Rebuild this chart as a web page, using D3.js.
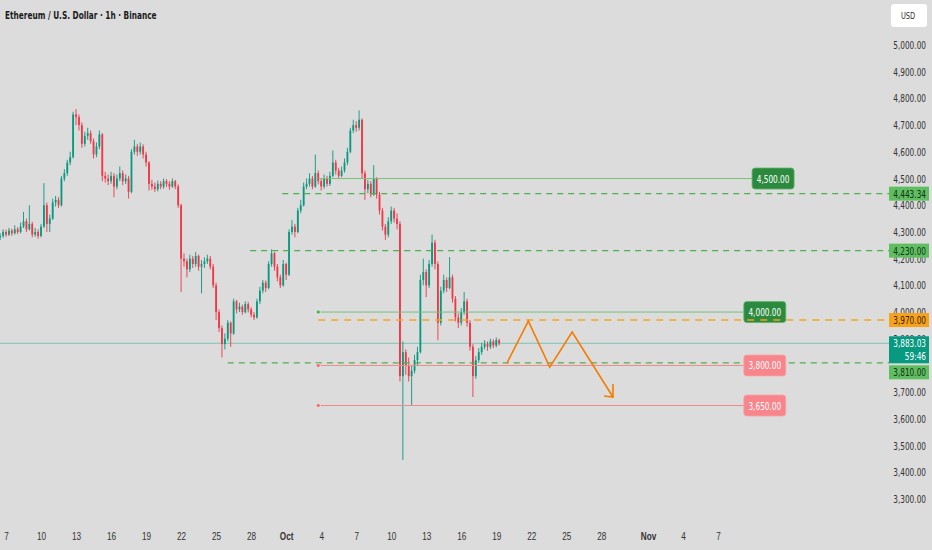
<!DOCTYPE html>
<html lang="en">
<head>
<meta charset="UTF-8" />
<title>Ethereum / U.S. Dollar · 1h · Binance</title>
<script src="https://d3js.org/d3.v7.min.js"></script>
<style>
    body { margin: 0; background: #dcdcdc; }
    svg { display: block; font-family: "DejaVu Sans Condensed", "DejaVu Sans", sans-serif; }
</style>
</head>
<body>
<svg width="932" height="550"></svg>
<script>
// 6h candles, starting 6 Sep 12:00
const startTime = Date.UTC(2025, 8, 6, 12);
const stepHours = 6;
const firstOpen = 4280;
const closes = [
    4285, 4300, 4290, 4305, 4295, 4310, 4300, 4320, 4340, 4310,
    4330, 4290, 4300, 4285, 4320, 4400, 4330, 4350, 4410, 4420,
    4400, 4500, 4520, 4560, 4580, 4740, 4730, 4700, 4630, 4660,
    4670, 4640, 4590, 4620, 4665, 4510, 4500, 4490, 4510, 4470,
    4500, 4520, 4490, 4500, 4450, 4600, 4620, 4600, 4620, 4590,
    4560, 4480, 4470, 4460, 4480, 4470, 4490, 4480, 4470, 4490,
    4470, 4400, 4200, 4190, 4160, 4200, 4180, 4210, 4170, 4180,
    4190, 4200, 4170, 4100, 4000, 3940, 3880, 3900, 3960, 3920,
    4040, 4010, 4020, 4000, 4030, 4010, 3990, 3980, 4040, 4080,
    4110, 4090, 4180, 4220, 4170, 4130, 4100, 4180, 4140, 4300,
    4320, 4300, 4380, 4400, 4470, 4480, 4500, 4470, 4520, 4490,
    4470, 4500, 4480, 4510, 4560, 4530, 4510, 4530, 4560, 4600,
    4680, 4700, 4690, 4720, 4520, 4460, 4480, 4440, 4500, 4440,
    4380, 4320, 4290, 4340, 4380, 4350, 4330, 3760, 3850, 3800,
    3760, 3780, 3820, 3850, 4120, 4150, 4100, 4180, 4260, 4180,
    3960, 4080, 4120, 4090, 4130, 4050, 3980, 3960, 4000, 4040,
    3960, 3870, 3760, 3820, 3850, 3870, 3880, 3870, 3890, 3875,
    3895, 3883.03
];
const highs = [
    4295, 4310, 4308, 4315, 4312, 4325, 4318, 4335, 4375, 4350,
    4400, 4338, 4315, 4310, 4330, 4483, 4410, 4365, 4425, 4435,
    4430, 4510, 4535, 4570, 4600, 4750, 4760, 4740, 4710, 4675,
    4690, 4680, 4650, 4635, 4680, 4670, 4525, 4515, 4525, 4520,
    4515, 4545, 4530, 4515, 4510, 4610, 4645, 4630, 4635, 4628,
    4600, 4565, 4495, 4485, 4492, 4490, 4500, 4498, 4490, 4500,
    4495, 4478, 4405, 4220, 4200, 4215, 4210, 4225, 4215, 4195,
    4205, 4215, 4210, 4180, 4110, 4010, 3950, 3920, 3970, 3965,
    4050, 4045, 4035, 4028, 4040, 4038, 4018, 4000, 4050, 4095,
    4120, 4118, 4190, 4235, 4225, 4180, 4140, 4195, 4185, 4310,
    4345, 4330, 4390, 4420, 4485, 4500, 4520, 4510, 4590, 4530,
    4500, 4515, 4510, 4525, 4605, 4570, 4540, 4545, 4575, 4615,
    4690, 4720, 4715, 4755, 4725, 4530, 4495, 4490, 4550, 4505,
    4450, 4390, 4330, 4355, 4395, 4390, 4370, 4340, 3890, 3860,
    3830, 3800, 3840, 3870, 4140, 4200, 4160, 4195, 4290, 4270,
    4190, 4095, 4140, 4130, 4206, 4140, 4060, 3995, 4015, 4075,
    4050, 3970, 3880, 3835, 3865, 3885, 3895, 3890, 3900, 3898,
    3905, 3900
];
const lows = [
    4270, 4278, 4282, 4285, 4286, 4290, 4292, 4295, 4315, 4300,
    4305, 4280, 4282, 4275, 4280, 4315, 4300, 4300, 4345, 4395,
    4390, 4395, 4490, 4510, 4550, 4575, 4700, 4680, 4615, 4620,
    4645, 4630, 4575, 4580, 4610, 4490, 4485, 4475, 4480, 4430,
    4460, 4490, 4475, 4480, 4425, 4445, 4590, 4585, 4590, 4575,
    4545, 4455, 4458, 4450, 4452, 4460, 4462, 4468, 4458, 4465,
    4460, 4390, 4075, 4170, 4130, 4150, 4165, 4170, 4155, 4070,
    4165, 4180, 4160, 4090, 3970, 3925, 3830, 3860, 3890, 3870,
    3915, 3995, 4000, 3990, 3995, 3998, 3980, 3970, 3975, 4030,
    4070, 4075, 4085, 4170, 4155, 4115, 4090, 4095, 4120, 4135,
    4290, 4280, 4295, 4370, 4395, 4460, 4470, 4460, 4465, 4478,
    4455, 4462, 4470, 4472, 4505, 4515, 4500, 4505, 4522, 4550,
    4595, 4670, 4675, 4680, 4500, 4420, 4445, 4430, 4435, 4425,
    4365, 4305, 4270, 4280, 4330, 4335, 4310, 3740, 3446, 3765,
    3740, 3652, 3770, 3800, 3845, 4100, 4056, 4090, 4170, 4160,
    3895, 3950, 4070, 4075, 4085, 4035, 3965, 3940, 3950, 3990,
    3945, 3855, 3682, 3750, 3810, 3840, 3860, 3855, 3862, 3865,
    3868, 3875
];

// 3,800 sits fully under the 3,810 tag, so it is not shown
const priceTicks = d3.range(3300, 5001, 100).filter((d) => d !== 3800);
const dateTicks = ["2025-09-07", "2025-09-10", "2025-09-13", "2025-09-16", "2025-09-19", "2025-09-22",
    "2025-09-25", "2025-09-28", "2025-10-01", "2025-10-04", "2025-10-07", "2025-10-10", "2025-10-13",
    "2025-10-16", "2025-10-19", "2025-10-22", "2025-10-25", "2025-10-28", "2025-11-01", "2025-11-04", "2025-11-07"];

// drawings
const rayPrices = [4500, 4000, 3800, 3650];
const rayStarts = ["2025-10-03T18:00Z", "2025-10-03T18:00Z", "2025-10-03T18:00Z", "2025-10-03T18:00Z"];
const rayEnds = ["2025-11-09T22:00Z", "2025-11-09T05:00Z", "2025-11-09T05:00Z", "2025-11-09T05:00Z"];
const dashedLevels = [4443.34, 4230, 3810];
const dashedStarts = ["2025-09-30T16:00Z", "2025-09-27T22:00Z", "2025-09-26T00:00Z"];
const orangeLevel = 3970;
const orangeStart = "2025-10-03T18:00Z";
const lastPrice = 3883.03;
const countdown = "59:46";
const pathDates = ["2025-10-19T22:00Z", "2025-10-21T18:00Z", "2025-10-23T14:00Z", "2025-10-25T12:00Z", "2025-10-29T00:00Z"];
const pathPrices = [3809, 3966, 3794, 3925, 3682];

const svg = d3.select('svg');
const W = 932, H = 550, plotRight = 889;
const squeeze = 0.78; // the screenshot text is narrow

const x = d3.scaleUtc()
    .domain([new Date("2025-09-07T00:00Z"), new Date("2025-11-01T00:00Z")])
    .range([6, 648]);
const y = d3.scaleLinear().domain([3300, 5000]).range([499, 45]);

const green = '#089981', red = '#f23645';
const fmt = d3.format(',.2f');

function label(px, py, s, size, fill, anchor) {
    return svg.append('text')
        .attr('transform', `translate(${px},${py}) scale(${squeeze},1)`)
        .attr('text-anchor', anchor || 'start')
        .attr('font-size', size)
        .attr('fill', fill)
        .text(s);
}

svg.append('rect').attr('width', W).attr('height', H).attr('fill', '#dcdcdc');

// last price line
svg.append('line')
    .attr('x1', 0).attr('x2', plotRight)
    .attr('y1', y(lastPrice)).attr('y2', y(lastPrice))
    .attr('stroke', '#7cc4b6').attr('stroke-width', 1);

// candles
const candles = closes.map((c, i) => ({
    t: new Date(startTime + i * stepHours * 3600e3),
    o: i ? closes[i - 1] : firstOpen,
    c,
    h: highs[i],
    l: lows[i],
}));
const step = x(new Date(startTime + stepHours * 3600e3)) - x(new Date(startTime));
const bw = step * 0.62;

const cg = svg.append('g');
cg.selectAll('line')
    .data(candles)
    .enter()
    .append('line')
    .attr('x1', (d) => x(d.t)).attr('x2', (d) => x(d.t))
    .attr('y1', (d) => y(d.h)).attr('y2', (d) => y(d.l))
    .attr('stroke', (d) => (d.c >= d.o ? green : red))
    .attr('stroke-width', 0.9);
cg.selectAll('rect')
    .data(candles)
    .enter()
    .append('rect')
    .attr('x', (d) => x(d.t) - bw / 2)
    .attr('width', bw)
    .attr('y', (d) => y(Math.max(d.o, d.c)))
    .attr('height', (d) => Math.max(1, Math.abs(y(d.o) - y(d.c))))
    .attr('fill', (d) => (d.c >= d.o ? green : red));

// dashed green levels
dashedLevels.forEach((p, i) => {
    svg.append('line')
        .attr('x1', x(new Date(dashedStarts[i]))).attr('x2', plotRight)
        .attr('y1', y(p)).attr('y2', y(p))
        .attr('stroke', '#4caf50').attr('stroke-width', 1.2)
        .attr('stroke-dasharray', '6 5');
});

// horizontal rays with tags
rayPrices.forEach((p, i) => {
    const up = p > lastPrice;
    const x1 = x(new Date(rayStarts[i])), x2 = x(new Date(rayEnds[i]));
    svg.append('line')
        .attr('x1', x1).attr('x2', x2)
        .attr('y1', y(p)).attr('y2', y(p))
        .attr('stroke', up ? '#76c27a' : '#f08a8a').attr('stroke-width', 1);
    if (i > 0) {
        svg.append('circle')
            .attr('cx', x1).attr('cy', y(p)).attr('r', 2)
            .attr('fill', up ? '#4caf50' : '#f06d6d')
            .attr('stroke', '#f3f3f3').attr('stroke-width', 0.6);
    }
    svg.append('rect')
        .attr('x', x2).attr('y', y(p) - 10.5)
        .attr('width', 42).attr('height', 21).attr('rx', 3)
        .attr('fill', up ? '#2b8a3e' : '#f7858b')
        .attr('stroke', up ? '#5fb56a' : '#f9a3a7').attr('stroke-width', 0.8);
    label(x2 + 21, y(p) + 4, fmt(p), 10.5, '#fff', 'middle');
});

// orange dashed level
svg.append('line')
    .attr('x1', x(new Date(orangeStart))).attr('x2', plotRight)
    .attr('y1', y(orangeLevel)).attr('y2', y(orangeLevel))
    .attr('stroke', '#f7a21b').attr('stroke-width', 1.6)
    .attr('stroke-dasharray', '7 6');

// projected zigzag
const pts = pathDates.map((d, i) => [x(new Date(d)), y(pathPrices[i])]);
svg.append('path')
    .attr('d', d3.line()(pts))
    .attr('fill', 'none')
    .attr('stroke', '#f57c00')
    .attr('stroke-width', 1.6);
const tip = pts[pts.length - 1];
svg.append('path')
    .attr('d', `M${tip[0]},${tip[1] - 13}L${tip[0]},${tip[1]}L${tip[0] - 9},${tip[1] - 1}`)
    .attr('fill', 'none')
    .attr('stroke', '#f57c00')
    .attr('stroke-width', 1.6);

// price axis
priceTicks.forEach((d) => label(926, y(d) + 4, fmt(d), 10.5, '#333', 'end'));

// axis tags
function axisTag(yc, fill, color, lines) {
    const h = lines.length * 13 + 1;
    svg.append('rect')
        .attr('x', 889).attr('y', yc - 7)
        .attr('width', 40).attr('height', h)
        .attr('fill', fill);
    lines.forEach((t, k) => label(926, yc + 4 + k * 13, t, 10.5, color, 'end'));
}
axisTag(y(4443.34), '#5fbe5f', '#12301a', [fmt(4443.34)]);
axisTag(y(4230), '#5fbe5f', '#12301a', [fmt(4230)]);
axisTag(y(orangeLevel), '#f7a21b', '#3a2200', [fmt(orangeLevel)]);
axisTag(y(lastPrice), green, '#fff', [fmt(lastPrice), countdown]);
axisTag(y(lastPrice) + 29, '#5fbe5f', '#12301a', [fmt(3810)]);

// time axis
const xAxis = svg.append('g')
    .attr('transform', 'translate(0,527)')
    .call(
        d3.axisBottom(x)
            .tickValues(dateTicks.map((d) => new Date(d + 'T00:00Z')))
            .tickSize(0)
            .tickPadding(6)
            .tickFormat((d) => (d.getUTCDate() === 1 ? d3.utcFormat('%b')(d) : d.getUTCDate()))
    );
xAxis.select('.domain').remove();
xAxis.selectAll('text')
    .attr('font-size', 10.5)
    .attr('font-family', null)
    .attr('fill', '#333')
    .attr('transform', `scale(${squeeze},1)`)
    .attr('font-weight', (d) => (d.getUTCDate() === 1 ? 'bold' : null));

// title and currency box
label(5, 19, 'Ethereum / U.S. Dollar · 1h · Binance', 10.5, '#1a1a1a').attr('font-weight', 'bold');

svg.append('rect')
    .attr('x', 891).attr('y', 4)
    .attr('width', 36).attr('height', 23).attr('rx', 3)
    .attr('fill', '#fff');
label(908, 19, 'USD', 9.5, '#333', 'middle');
</script>
</body>
</html>
